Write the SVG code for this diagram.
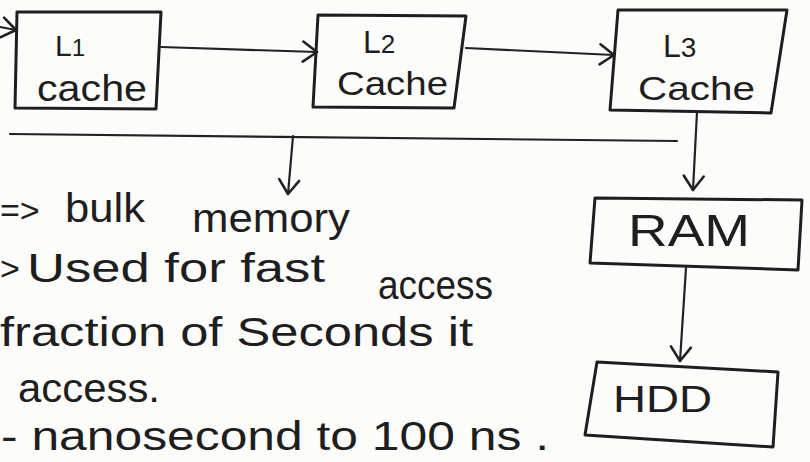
<svg xmlns="http://www.w3.org/2000/svg" width="810" height="462" viewBox="0 0 810 462">
<style>
.box{fill:none;stroke:#1e1e1e;stroke-width:3;stroke-linejoin:round}
.ln{fill:none;stroke:#222;stroke-width:2.2;stroke-linecap:round}
.t{font-family:"Liberation Sans","DejaVu Sans",sans-serif;fill:#1e1e1e}
</style>
<defs>
<marker id="ah" viewBox="-16 -12 20 24" markerWidth="20" markerHeight="24" refX="0" refY="0" orient="auto" markerUnits="userSpaceOnUse">
<path d="M-14,-10 L0,0 L-14,10" fill="none" stroke="#222" stroke-width="2.6" stroke-linecap="round" stroke-linejoin="round"/>
</marker>
</defs>
<rect width="810" height="462" fill="#fcfcfa"/>
<g id="connectors">
<line class="ln" x1="0" y1="27" x2="16" y2="30" marker-end="url(#ah)"/>
<line class="ln" x1="161" y1="47" x2="317" y2="52" marker-end="url(#ah)"/>
<line class="ln" x1="466" y1="48" x2="614" y2="55" marker-end="url(#ah)"/>
<line class="ln" x1="10" y1="134" x2="677" y2="141"/>
<line class="ln" x1="293" y1="136" x2="288" y2="194" marker-end="url(#ah)"/>
<line class="ln" x1="697" y1="112" x2="693" y2="190" marker-end="url(#ah)"/>
<line class="ln" x1="686" y1="268" x2="680" y2="361" marker-end="url(#ah)"/>
</g>
<g id="l1">
<polygon class="box" points="17,12 161,12 156,109 15,108"/>
<text class="t" x="55" y="56" font-size="30">L<tspan font-size="24">1</tspan></text>
<text class="t" x="37" y="101" font-size="36" textLength="110" lengthAdjust="spacingAndGlyphs">cache</text>
</g>
<g id="l2">
<polygon class="box" points="318,15 466,16 454,108 313,107"/>
<text class="t" x="363" y="53" font-size="32">L<tspan font-size="26">2</tspan></text>
<text class="t" x="337" y="95" font-size="34" textLength="111" lengthAdjust="spacingAndGlyphs">Cache</text>
</g>
<g id="l3">
<polygon class="box" points="618,10 787,10 771,113 610,110"/>
<text class="t" x="663" y="57" font-size="32">L<tspan font-size="28">3</tspan></text>
<text class="t" x="638" y="100" font-size="34" textLength="117" lengthAdjust="spacingAndGlyphs">Cache</text>
</g>
<g id="ram">
<polygon class="box" points="595,198 802,200 798,270 590,263"/>
<text class="t" x="628" y="246" font-size="44" textLength="122" lengthAdjust="spacingAndGlyphs">RAM</text>
</g>
<g id="hdd">
<polygon class="box" points="597,362 778,372 773,447 585,435"/>
<text class="t" x="613" y="412" font-size="36" textLength="99" lengthAdjust="spacingAndGlyphs">HDD</text>
</g>
<g id="notes" class="t" font-size="40">
<text x="0" y="222" font-size="34">=&gt;</text>
<text x="65" y="222" textLength="80" lengthAdjust="spacingAndGlyphs">bulk</text>
<text x="192" y="232" textLength="158" lengthAdjust="spacingAndGlyphs">memory</text>
<text x="0" y="280" font-size="34">&gt;</text>
<text x="27" y="282" textLength="298" lengthAdjust="spacingAndGlyphs">Used for fast</text>
<text x="378" y="299" textLength="115" lengthAdjust="spacingAndGlyphs">access</text>
<text x="0" y="346" textLength="473" lengthAdjust="spacingAndGlyphs">fraction of Seconds it</text>
<text x="18" y="402" textLength="142" lengthAdjust="spacingAndGlyphs">access.</text>
<text x="1" y="450" textLength="548" lengthAdjust="spacingAndGlyphs">- nanosecond to 100 ns .</text>
</g>
</svg>
